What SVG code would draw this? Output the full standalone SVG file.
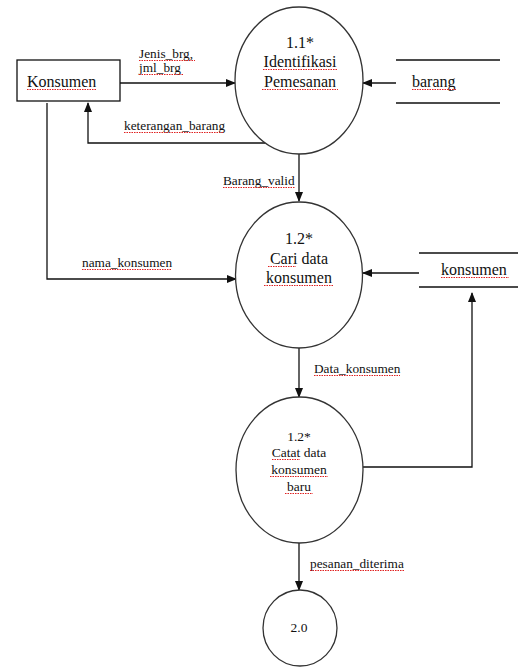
<svg xmlns="http://www.w3.org/2000/svg" width="518" height="668" viewBox="0 0 518 668" font-family="Times New Roman, Liberation Serif, serif">
<style>
text{font-family:"Times New Roman","Liberation Serif",serif;fill:#111}
.nd{font-size:16px;text-anchor:middle}
.sm{font-size:13.5px;text-anchor:middle}
.lb{font-size:13.3px}
.ln{fill:none;stroke:#111;stroke-width:1.3}
.el{fill:#fff;stroke:#333;stroke-width:1.3}
.wv{fill:none;stroke:#e02020;stroke-width:1;stroke-dasharray:1.5 1}
</style>
<defs>
<marker id="ah" markerWidth="10" markerHeight="8" refX="9" refY="4" orient="auto" markerUnits="userSpaceOnUse">
<path d="M0,0 L10,4 L0,8 Z" fill="#111"/>
</marker>
</defs>
<rect width="518" height="668" fill="#fff"/>

<g id="connectors">
<path class="ln" d="M120,83 H235" marker-end="url(#ah)"/>
<path class="ln" d="M265,143 H88 V103" marker-end="url(#ah)"/>
<path class="ln" d="M396,83 H363" marker-end="url(#ah)"/>
<path class="ln" d="M299,154 V201" marker-end="url(#ah)"/>
<path class="ln" d="M47,103 V279 H236" marker-end="url(#ah)"/>
<path class="ln" d="M419,273 H363" marker-end="url(#ah)"/>
<path class="ln" d="M363,467 H472 V293" marker-end="url(#ah)"/>
<path class="ln" d="M299,348 V397" marker-end="url(#ah)"/>
<path class="ln" d="M299,543 V590" marker-end="url(#ah)"/>
<text class="lb" x="139" y="58">Jenis_brg,</text>
<path class="wv" d="M139,60.5 H195"/>
<text class="lb" x="139" y="72">jml_brg</text>
<path class="wv" d="M139,74.5 H183"/>
<text class="lb" x="124" y="130">keterangan_barang</text>
<path class="wv" d="M124,132.5 H224"/>
<text class="lb" x="223" y="185">Barang_valid</text>
<path class="wv" d="M223,187.5 H295"/>
<text class="lb" x="82" y="267">nama_konsumen</text>
<path class="wv" d="M82,269.5 H172"/>
<text class="lb" x="314" y="373">Data_konsumen</text>
<path class="wv" d="M314,375.5 H400"/>
<text class="lb" x="310" y="568">pesanan_diterima</text>
<path class="wv" d="M310,570.5 H404"/>
</g>

<g id="konsumen-entity">
<rect x="17" y="60" width="103" height="41" fill="#fff" stroke="#111" stroke-width="1.3"/>
<text x="27" y="87" font-size="16">Konsumen</text>
<path class="wv" d="M27,89.5 H97"/>
</g>

<g id="p1-1">
<ellipse class="el" cx="299" cy="80.5" rx="64" ry="73.5"/>
<text class="nd" x="300" y="48">1.1*</text>
<text class="nd" x="300" y="67">Identifikasi</text>
<path class="wv" d="M263,69.5 H337"/>
<text class="nd" x="300" y="87">Pemesanan</text>
<path class="wv" d="M262,89.5 H338"/>
</g>

<g id="store-barang">
<path class="ln" d="M396,60 H500 M396,103 H500"/>
<text x="412" y="87" font-size="16">barang</text>
<path class="wv" d="M412,89.5 H457"/>
</g>

<g id="p1-2">
<ellipse class="el" cx="299" cy="275" rx="63.5" ry="73"/>
<text class="nd" x="299" y="244">1.2*</text>
<text class="nd" x="299" y="264">Cari data</text>
<path class="wv" d="M268,266.5 H296"/>
<text class="nd" x="299" y="283">konsumen</text>
<path class="wv" d="M264,285.5 H334"/>
</g>

<g id="store-konsumen">
<path class="ln" d="M419,253 H518 M419,287 H518"/>
<text x="441" y="275" font-size="16">konsumen</text>
<path class="wv" d="M441,277.5 H509"/>
</g>

<g id="p1-2b">
<ellipse class="el" cx="299.5" cy="470" rx="63.5" ry="73"/>
<text class="sm" x="299" y="441">1.2*</text>
<text class="sm" x="299" y="457">Catat data</text>
<path class="wv" d="M272,459.5 H300"/>
<text class="sm" x="299" y="474">konsumen</text>
<path class="wv" d="M270,476.5 H328"/>
<text class="sm" x="299" y="491">baru</text>
<path class="wv" d="M285,493.5 H313"/>
</g>

<g id="p2-0">
<ellipse class="el" cx="300" cy="628" rx="37" ry="38"/>
<text class="sm" x="299" y="632">2.0</text>
</g>
</svg>
